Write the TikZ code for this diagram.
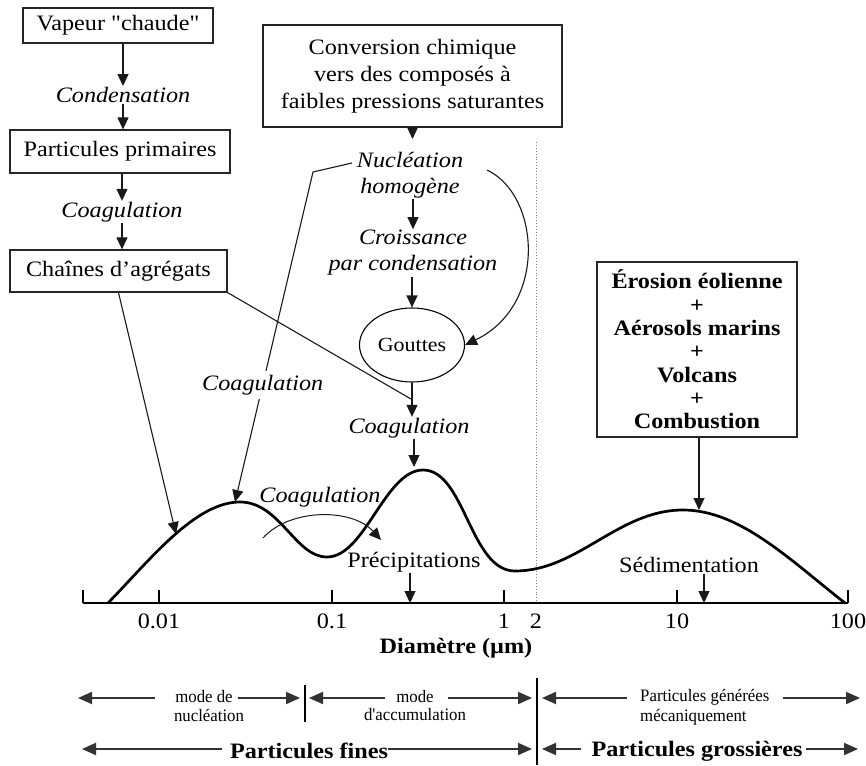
\documentclass[tikz,border=0pt]{standalone}
\usepackage{fontspec}
\setmainfont{Liberation Serif}[Ligatures=TeXOff,FakeStretch=1.1]
\newfontfamily\narrowfont{Liberation Serif}[Ligatures=TeXOff,FakeStretch=0.96]
\usetikzlibrary{arrows.meta,shapes.geometric}
\begin{document}
\begin{tikzpicture}[x=1pt,y=-1pt,
  every node/.style={font=\fontsize{22}{27}\selectfont, inner sep=1pt},
  box/.style={draw=black!85, line width=1.2pt, inner sep=0pt},
  lab/.style={font=\fontsize{22}{26}\selectfont\itshape, inner sep=1pt},
  sm/.style={font=\narrowfont\fontsize{17.5}{20}\selectfont, inner sep=0pt},
  bigb/.style={font=\fontsize{22}{26}\selectfont\bfseries, inner sep=0pt},
  arr/.style={-{Triangle[length=12pt,width=11pt]}, line width=1.1pt, draw=black!90},
  conn/.style={line width=1.1pt, draw=black!90},
  barr/.style={-{Triangle[length=14pt,width=12pt]}, line width=1.9pt, draw=black!80},
  curve/.style={line width=2.7pt, line cap=round, line join=round}]
\useasboundingbox (0,0) rectangle (866,765);

% left column
\node[box, minimum width=190pt, minimum height=35pt] (vap) at (118,25.5) {Vapeur "chaude"};
\node[lab] (cond) at (123,95) {Condensation};
\node[box, minimum width=220pt, minimum height=43pt] (prim) at (120,151.5) {Particules primaires};
\node[lab] (coag1) at (122,212) {Coagulation};
\node[box, minimum width=217pt, minimum height=42pt] (chain) at (118.5,271) {Chaînes d’agrégats};
\draw[arr] (cond |- vap.south) -- (cond);
\draw[arr] (cond) -- (cond |- prim.north);
\draw[arr] (coag1 |- prim.south) -- (coag1);
\draw[arr] (coag1) -- (coag1 |- chain.north);

% middle column
\node[box, minimum width=299pt, minimum height=102pt, align=center] (conv) at (412.5,76)
  {Conversion chimique\\vers des composés à\\faibles pressions saturantes};
\node[lab, align=center] (nucl) at (410,175) {Nucléation\\homogène};
\node[lab, align=center] (crois) at (413,253) {Croissance\\par condensation};
\node[draw, ellipse, line width=1.1pt, minimum width=105pt, minimum height=74pt, inner sep=0pt,
  font=\fontsize{20}{24}\selectfont] (gout) at (412,345) {Gouttes};
\node[lab] (coag2) at (409,428) {Coagulation};
\coordinate (convtip) at (412.5,139);
\draw[arr] (conv.south) -- (convtip);
\draw[arr] (nucl.south -| crois) -- (crois);
\draw[arr] (crois.south -| gout) -- (gout);
\draw[arr] (gout.south) -- (gout.south |- coag2.north);
\coordinate (pk2) at (414,467);
\draw[arr] (coag2.south -| pk2) -- (pk2);

% right box
\node[box, bigb, align=center, font=\fontsize{22}{23.3}\selectfont\bfseries,
  minimum width=200pt, minimum height=175pt] (src) at (697,349.5)
  {Érosion éolienne\\+\\Aérosols marins\\+\\Volcans\\+\\Combustion};
\coordinate (pk3) at (699,510);
\draw[arr] (src.south -| pk3) -- (pk3);

% long connectors
\coordinate (jn) at (411,399);
\draw[conn] (chain.south east) -- (jn);
\coordinate (pk0) at (176,534);
\draw[arr] (chain.south) -- (pk0);
\coordinate (nw) at (352,163);
\coordinate (kn) at (313,172);
\coordinate (pk1) at (235,502);
\draw[arr] (nw) -- (kn) -- node[pos=0.645, lab, fill=white, inner sep=4pt] (coagL) {Coagulation} (pk1);
\coordinate (ne) at (487,170);
\draw[arr] (ne) .. controls (540,195) and (548,305) .. (gout.east);

% dotted separator
\coordinate (dtop) at (536,142);
\coordinate (dbot) at (536,603);
\draw[dotted, black!50, line width=0.9pt] (dtop) -- (dbot);

% size distribution curve
\draw[curve] (108,603) .. controls (150,560) and (195,502) .. (240,502)
  .. controls (280,502) and (295,557) .. (327,557)
  .. controls (365,557) and (385,470) .. (423,470)
  .. controls (465,470) and (470,571) .. (515,571)
  .. controls (578,571) and (618,510) .. (683,510)
  .. controls (740,510) and (790,560) .. (845,603);

% coagulation over the dip
\node[lab] (coag3) at (320,497) {Coagulation};
\coordinate (ca) at (263,538);
\coordinate (cb) at (381,540);
\draw[arr, line width=1pt] (ca) .. controls (290,508) and (352,508) .. (cb);

% removal processes
\node (precip) at (414,562) {Précipitations};
\coordinate (ax1) at (410,603);
\draw[arr] (precip.south -| ax1) -- (ax1);
\node (sedim) at (689,565) {Sédimentation};
\coordinate (ax2) at (704,603);
\draw[arr] (sedim.south -| ax2) -- (ax2);

% axis
\coordinate (axl) at (83,603);
\coordinate (axr) at (848,603);
\draw[line width=1.2pt] (axl) -- (axr);
\draw[line width=1.2pt] (83,603) -- (83,590);
\foreach \x/\l [count=\i] in {159/0.01,332/0.1,504/1,677/10,848/100} {
  \draw[line width=1.2pt] (\x,603) -- (\x,590);
  \node (tick\i) at (\x,621) {\l};
}
\node (tick2b) at (536,621) {2};
\node[font=\fontsize{22}{26}\selectfont\bfseries] (diam) at (456,648) {Diamètre (µm)};

% bottom classification
\draw[line width=1.4pt] (305,685) -- (305,722);
\draw[line width=1.4pt] (537,678) -- (537,765);
\node[sm] (m1a) at (204,697) {mode de};
\node[sm] (m1b) at (209,715) {nucléation};
\node[sm] (m2a) at (415,697) {mode};
\node[sm] (m2b) at (415,715) {d'accumulation};
\node[sm, anchor=west] (m3a) at (640,697) {Particules générées};
\node[sm, anchor=west] (m3b) at (640,717) {mécaniquement};
\coordinate (r1a) at (78,698);
\coordinate (r1b) at (300,698);
\coordinate (r1c) at (309,698);
\coordinate (r1d) at (532,698);
\coordinate (r1e) at (542,698);
\coordinate (r1f) at (860,698);
\draw[barr] (155,698) -- (r1a);
\draw[barr] (238,698) -- (r1b);
\draw[barr] (385,698) -- (r1c);
\draw[barr] (448,698) -- (r1d);
\draw[barr] (627,698) -- (r1e);
\draw[barr] (783,698) -- (r1f);

\node[font=\fontsize{22}{26}\selectfont\bfseries, inner sep=0pt] (pf) at (309,751) {Particules fines};
\node[font=\fontsize{22}{26}\selectfont\bfseries, inner sep=0pt] (pg) at (697,751) {Particules grossières};
\coordinate (r2a) at (82,749);
\coordinate (r2b) at (532,749);
\coordinate (r2c) at (542,749);
\coordinate (r2d) at (858,749);
\draw[barr] (pf.west |- r2a) ++(-8,0) -- (r2a);
\draw[barr] (pf.east |- r2b) -- (r2b);
\draw[barr] (pg.west |- r2c) ++(-10,0) -- (r2c);
\draw[barr] (pg.east |- r2d) ++(3,0) -- (r2d);
\end{tikzpicture}
\end{document}
